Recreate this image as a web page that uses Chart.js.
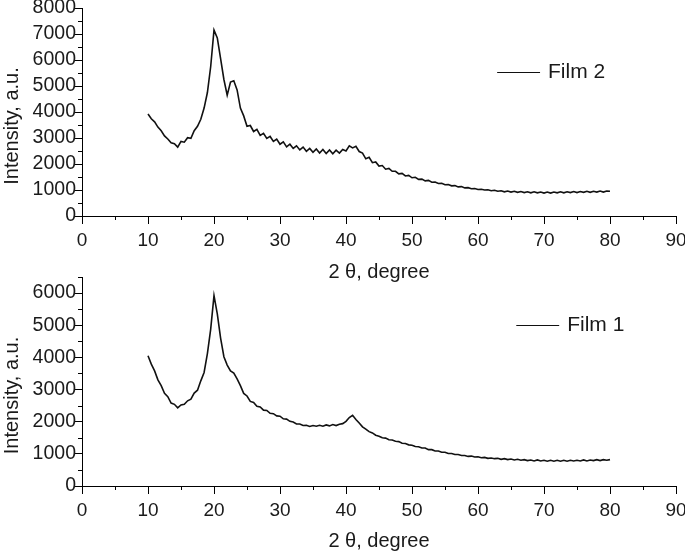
<!DOCTYPE html>
<html>
<head>
<meta charset="utf-8">
<script src="https://cdn.jsdelivr.net/npm/chart.js@4"></script>
<style>
  html, body { margin: 0; padding: 0; background: #fff; }
  #wrap { position: relative; width: 685px; height: 551px; overflow: hidden; }
  .box { position: absolute; left: 0; width: 685px; }
  #top { top: 0; height: 284px; }
  #bot { top: 268px; height: 285px; }
</style>
</head>
<body>
<div id="wrap">
  <div class="box" id="top"><canvas id="film2"></canvas></div>
  <div class="box" id="bot"><canvas id="film1"></canvas></div>
</div>
<script>
// ====== data ======
const twoTheta = [
  10,10.5,11,11.5,12,12.5,13,13.5,14,14.5,
  15,15.5,16,16.5,17,17.5,18,18.5,19,19.5,
  20,20.5,21,21.5,22,22.5,23,23.5,24,24.5,
  25,25.5,26,26.5,27,27.5,28,28.5,29,29.5,
  30,30.5,31,31.5,32,32.5,33,33.5,34,34.5,
  35,35.5,36,36.5,37,37.5,38,38.5,39,39.5,
  40,40.5,41,41.5,42,42.5,43,43.5,44,44.5,
  45,45.5,46,46.5,47,47.5,48,48.5,49,49.5,
  50,50.5,51,51.5,52,52.5,53,53.5,54,54.5,
  55,55.5,56,56.5,57,57.5,58,58.5,59,59.5,
  60,60.5,61,61.5,62,62.5,63,63.5,64,64.5,
  65,65.5,66,66.5,67,67.5,68,68.5,69,69.5,
  70,70.5,71,71.5,72,72.5,73,73.5,74,74.5,
  75,75.5,76,76.5,77,77.5,78,78.5,79,79.5,
  80
];

const film2 = [
  3920,3740,3620,3420,3280,3080,2960,2820,2780,2650,
  2870,2840,3010,2990,3280,3450,3720,4150,4750,5750,
  7150,6850,6050,5250,4650,5150,5200,4850,4150,3850,
  3450,3480,3250,3330,3100,3180,2980,3060,2870,2960,
  2760,2850,2660,2760,2600,2700,2540,2650,2490,2600,
  2450,2580,2420,2560,2400,2540,2390,2530,2420,2560,
  2500,2700,2620,2680,2480,2420,2200,2260,2050,2080,
  1920,1940,1800,1830,1720,1720,1620,1640,1540,1560,
  1470,1490,1410,1420,1350,1370,1300,1310,1250,1260,
  1200,1210,1160,1170,1120,1130,1080,1090,1050,1060,
  1020,1030,1000,1010,970,990,950,970,930,960,
  920,950,910,940,900,930,890,930,890,920,
  880,920,880,920,890,930,890,930,900,940,
  900,940,910,950,910,950,920,960,920,960,
  950
];

const film1 = [
  4050,3790,3580,3300,3120,2880,2780,2580,2540,2430,
  2520,2540,2650,2700,2890,2980,3270,3530,4120,4880,
  5920,5350,4600,4020,3760,3580,3510,3330,3120,2880,
  2800,2630,2600,2480,2460,2360,2350,2260,2250,2180,
  2170,2090,2080,2010,1990,1930,1930,1880,1890,1850,
  1880,1860,1890,1860,1900,1870,1910,1880,1920,1940,
  2010,2130,2200,2070,1960,1840,1770,1690,1650,1580,
  1550,1500,1490,1440,1430,1390,1380,1330,1320,1280,
  1270,1230,1220,1180,1180,1130,1130,1090,1090,1050,
  1050,1010,1010,980,980,950,950,920,930,900,
  910,880,890,860,870,850,860,830,850,820,
  840,810,830,800,820,790,810,780,810,780,
  800,770,800,770,800,770,800,770,800,780,
  800,780,810,780,810,790,820,790,820,800,
  820
];

// ====== helpers ======
const FONT = "'Liberation Sans', Arial, Helvetica, sans-serif";
const INK = '#1a1a1a';
Chart.defaults.font.family = FONT;

// minor ticks (half steps) – shorter than the major ones
const minorTicks = {
  id: 'minorTicks',
  afterDraw(chart, args, opts) {
    const ctx = chart.ctx;
    const { x, y } = chart.scales;
    ctx.save();
    ctx.strokeStyle = '#000';
    ctx.lineWidth = 1;
    ctx.beginPath();
    x.ticks.forEach(t => {
      if (t.value % opts.xMajor !== 0) {
        const px = Math.round(x.getPixelForValue(t.value)) + 0.5;
        ctx.moveTo(px, x.top);
        ctx.lineTo(px, x.top + 4);
      }
    });
    y.ticks.forEach(t => {
      if (t.value % opts.yMajor !== 0) {
        const py = Math.round(y.getPixelForValue(t.value)) + 0.5;
        ctx.moveTo(y.right, py);
        ctx.lineTo(y.right - 4, py);
      }
    });
    ctx.stroke();
    ctx.restore();
  }
};

// y title sits a bit below the middle of the axis in the original
const yTitle = {
  id: 'yTitle',
  afterDraw(chart, args, opts) {
    const ctx = chart.ctx;
    const area = chart.chartArea;
    ctx.save();
    ctx.translate(opts.x, (area.top + area.bottom) / 2 + opts.shift);
    ctx.rotate(-Math.PI / 2);
    ctx.fillStyle = INK;
    ctx.font = '20px ' + FONT;
    ctx.textAlign = 'center';
    ctx.textBaseline = 'middle';
    ctx.fillText(opts.text, 0, 0);
    ctx.restore();
  }
};

// legend drawn inside the plot
const legendMark = {
  id: 'legendMark',
  afterDatasetsDraw(chart, args, opts) {
    const ctx = chart.ctx;
    const { x, y } = chart.scales;
    const ds = chart.data.datasets[0];
    const x0 = x.getPixelForValue(opts.from);
    const x1 = x.getPixelForValue(opts.to);
    const py = Math.round(y.getPixelForValue(opts.at)) + 0.5;
    ctx.save();
    ctx.strokeStyle = ds.borderColor;
    ctx.lineWidth = 1.2;
    ctx.beginPath();
    ctx.moveTo(x0, py);
    ctx.lineTo(x1, py);
    ctx.stroke();
    ctx.fillStyle = INK;
    ctx.font = '21px ' + FONT;
    ctx.textBaseline = 'middle';
    ctx.fillText(ds.label, x1 + 8, py);
    ctx.restore();
  }
};

function makeChart(id, label, values, yMax, legendPos, padTop, xAxisH) {
  const pts = values.map((v, i) => ({ x: twoTheta[i], y: v }));
  return new Chart(document.getElementById(id), {
    type: 'line',
    data: {
      datasets: [{
        label: label,
        data: pts,
        borderColor: '#111',
        borderWidth: 1.6,
        pointRadius: 0,
        tension: 0,
        fill: false
      }]
    },
    options: {
      responsive: true,
      maintainAspectRatio: false,
      animation: false,
      devicePixelRatio: 1,
      layout: { padding: { top: padTop, right: 9, left: 0, bottom: 0 } },
      plugins: {
        legend: { display: false },
        tooltip: { enabled: false },
        minorTicks: { xMajor: 10, yMajor: 1000 },
        yTitle: { text: 'Intensity, a.u.', x: 12, shift: 14 },
        legendMark: legendPos
      },
      scales: {
        x: {
          type: 'linear',
          min: 0, max: 90,
          ticks: {
            stepSize: 5, autoSkip: false, maxRotation: 0, padding: 5,
            color: INK, font: { size: 19 },
            callback: v => (v % 10 === 0 ? v : '')
          },
          grid: {
            drawOnChartArea: false, tickLength: 8, tickWidth: 1,
            tickColor: c => (c.tick && c.tick.value % 10 === 0 ? '#000' : 'rgba(0,0,0,0)')
          },
          border: { color: '#000', width: 1 },
          title: {
            display: true, text: '2 θ, degree', color: INK,
            font: { size: 20 }, padding: { top: 0, bottom: 0 }
          },
          afterFit: s => { s.height = xAxisH; s.paddingLeft = 0; s.paddingRight = 0; }
        },
        y: {
          min: 0, max: yMax,
          ticks: {
            stepSize: 500, autoSkip: false, padding: -2,
            color: INK, font: { size: 19.5 },
            callback: v => (v % 1000 === 0 ? v : '')
          },
          grid: {
            drawOnChartArea: false, tickLength: 8, tickWidth: 1,
            tickColor: c => (c.tick && c.tick.value % 1000 === 0 ? '#000' : 'rgba(0,0,0,0)')
          },
          border: { color: '#000', width: 1 },
          title: { display: false },
          afterFit: s => { s.width = 82; s.paddingTop = 0; s.paddingBottom = 0; }
        }
      }
    },
    plugins: [minorTicks, yTitle, legendMark]
  });
}

makeChart('film2', 'Film 2', film2, 8000, { from: 62.9, to: 69.4, at: 5520 }, 8, 68);
makeChart('film1', 'Film 1', film1, 6500, { from: 65.8, to: 72.3, at: 5000 }, 9, 67);
</script>
</body>
</html>
